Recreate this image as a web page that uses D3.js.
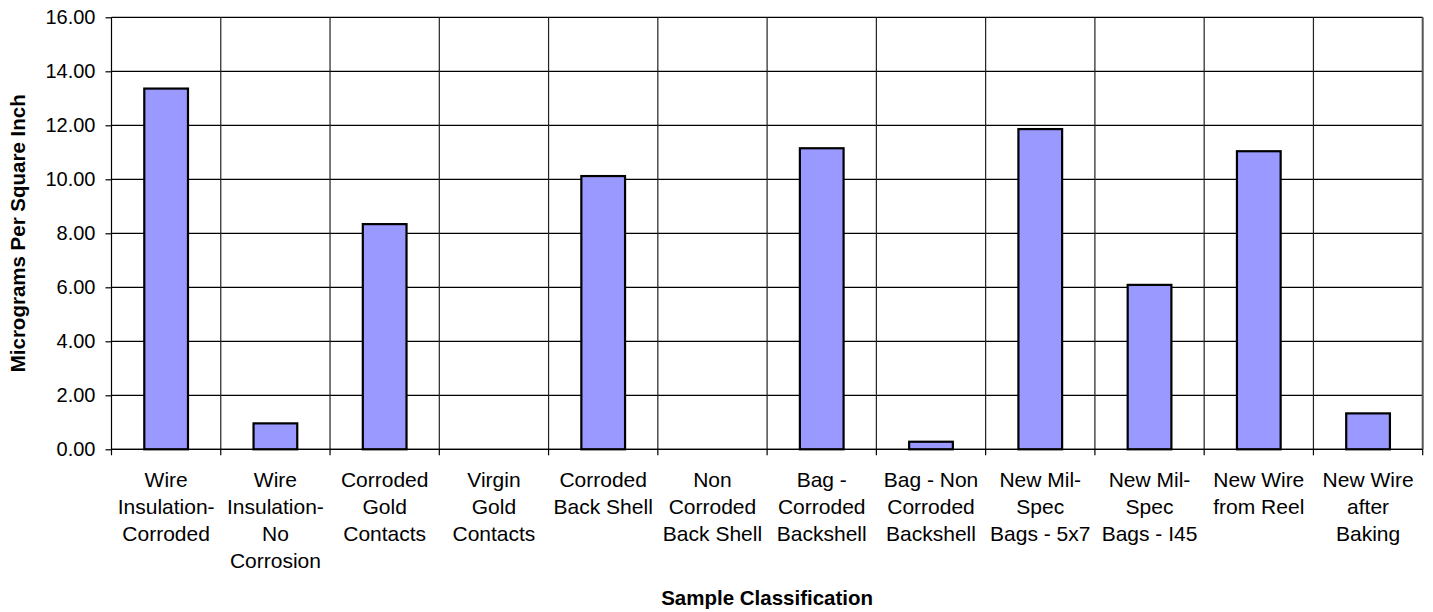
<!DOCTYPE html>
<html>
<head>
<meta charset="utf-8">
<script src="https://cdn.jsdelivr.net/npm/d3@7"></script>
<style>
  body { margin: 0; background: #fff; }
  text { font-family: Arial, "Liberation Sans", sans-serif; fill: #000; }
  .axis-title { font-weight: bold; font-size: 20.5px; }
  .tick text { font-size: 20px; }
</style>
</head>
<body>
<svg id="chart"></svg>
<script>
// data
const categories = [
  ["Wire", "Insulation-", "Corroded"],
  ["Wire", "Insulation-", "No", "Corrosion"],
  ["Corroded", "Gold", "Contacts"],
  ["Virgin", "Gold", "Contacts"],
  ["Corroded", "Back Shell"],
  ["Non", "Corroded", "Back Shell"],
  ["Bag -", "Corroded", "Backshell"],
  ["Bag - Non", "Corroded", "Backshell"],
  ["New Mil-", "Spec", "Bags - 5x7"],
  ["New Mil-", "Spec", "Bags - I45"],
  ["New Wire", "from Reel"],
  ["New Wire", "after", "Baking"]
];
const values = [13.36, 0.96, 8.34, 0, 10.12, 0, 11.15, 0.28, 11.86, 6.09, 11.04, 1.33];
const yTicks = [0, 2, 4, 6, 8, 10, 12, 14, 16];

const width = 1433, height = 612;
const margin = {top: 17.3, right: 10.3, bottom: 162.7, left: 111.5};
const w = width - margin.left - margin.right;
const h = height - margin.top - margin.bottom;

const svg = d3.select('#chart').attr('width', width).attr('height', height);
const chart = svg.append('g').attr('transform', `translate(${margin.left},${margin.top})`);

const idx = d3.range(categories.length);
const xScale = d3.scaleBand().domain(idx).range([0, w]).paddingInner(0.6).paddingOuter(0.3);
const yScale = d3.scaleLinear().domain([0, 16]).range([h, 0]);
const step = xScale.step();

// horizontal gridlines
chart.append('g')
  .selectAll('line').data(yTicks).join('line')
  .attr('x1', 0).attr('x2', w)
  .attr('y1', d => yScale(d)).attr('y2', d => yScale(d))
  .attr('stroke', '#000').attr('stroke-width', 1.2);

// vertical category separators
chart.append('g')
  .selectAll('line').data(d3.range(1, categories.length)).join('line')
  .attr('x1', d => d * step).attr('x2', d => d * step)
  .attr('y1', 0).attr('y2', h)
  .attr('stroke', '#222').attr('stroke-width', 1.2);

// right border
chart.append('line')
  .attr('x1', w).attr('x2', w).attr('y1', 0).attr('y2', h)
  .attr('stroke', '#555').attr('stroke-width', 2);

// bars (zero values draw nothing)
chart.append('g')
  .selectAll('rect').data(idx.filter(i => values[i] > 0)).join('rect')
  .attr('x', i => xScale(i))
  .attr('y', i => yScale(values[i]))
  .attr('width', xScale.bandwidth())
  .attr('height', i => h - yScale(values[i]))
  .attr('fill', '#9999ff')
  .attr('stroke', '#000')
  .attr('stroke-width', 2.2);

// y axis
const yAxis = d3.axisLeft(yScale).tickValues(yTicks).tickFormat(d3.format('.2f')).tickSize(6).tickPadding(10);
chart.append('g').call(yAxis)
  .call(g => g.selectAll('line, path').attr('stroke', '#000').attr('stroke-width', 1.2))
  .call(g => g.select('.domain').attr('d', `M0,0V${h}`));

// x axis: separator ticks and wrapped labels
const xg = chart.append('g').attr('transform', `translate(0,${h})`);
xg.append('line').attr('x1', 0).attr('x2', w).attr('stroke', '#000').attr('stroke-width', 1.2);
xg.selectAll('.xtick').data(d3.range(0, categories.length + 1)).join('line')
  .attr('x1', d => d * step).attr('x2', d => d * step)
  .attr('y1', 0).attr('y2', 6)
  .attr('stroke', '#000').attr('stroke-width', 1.2);

const labels = xg.selectAll('.xlabel').data(categories).join('text')
  .attr('class', 'xlabel')
  .attr('text-anchor', 'middle')
  .attr('font-size', 21)
  .attr('transform', (d, i) => `translate(${xScale(i) + xScale.bandwidth() / 2},38)`);
labels.selectAll('tspan').data(d => d).join('tspan')
  .attr('x', 0)
  .attr('y', (d, j) => j * 27)
  .text(d => d);

// axis titles
svg.append('text')
  .attr('class', 'axis-title')
  .attr('text-anchor', 'middle')
  .attr('x', margin.left + w / 2)
  .attr('y', 605)
  .text('Sample Classification');

svg.append('text')
  .attr('class', 'axis-title')
  .attr('text-anchor', 'middle')
  .attr('transform', `translate(25,${margin.top + h / 2}) rotate(-90)`)
  .text('Micrograms Per Square Inch');
</script>
</body>
</html>
